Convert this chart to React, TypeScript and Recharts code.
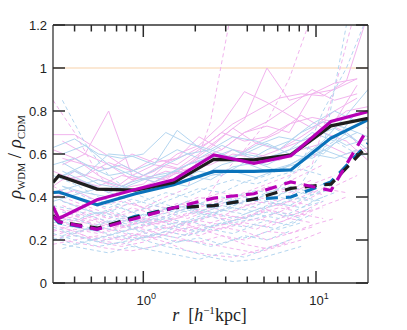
import React from 'react';
import { LineChart, Line, XAxis, YAxis, ReferenceLine } from 'recharts';

// radial bins (h^-1 kpc)
const radiiMean = [0.3, 0.324, 0.54, 0.9, 1.5, 2.56, 4.37, 7.15, 12.2, 20];
const radiiA = [0.3, 0.4, 0.55, 0.75, 1.0, 1.35, 1.8, 2.45, 3.3, 4.5, 6.1, 8.2, 11, 15, 20];
const radiiB = [0.34, 0.46, 0.63, 0.86, 1.16, 1.57, 2.1, 2.85, 3.85, 5.2, 7.0, 9.5, 12.8, 17.3];

const xTicks = [0.4, 0.5, 0.6, 0.7, 0.8, 0.9, 1, 2, 3, 4, 5, 6, 7, 8, 9, 10];
const yTicks = [0, 0.2, 0.4, 0.6, 0.8, 1, 1.2];

// thick median curves
const blackSolid = [0.468, 0.499, 0.437, 0.432, 0.467, 0.575, 0.573, 0.596, 0.731, 0.766];
const blueSolid = [0.421, 0.423, 0.364, 0.415, 0.457, 0.519, 0.519, 0.526, 0.674, 0.759];
const magentaSolid = [0.356, 0.3, 0.387, 0.435, 0.48, 0.596, 0.557, 0.592, 0.751, 0.797];
const blackDashed = [0.315, 0.285, 0.255, 0.305, 0.35, 0.36, 0.39, 0.44, 0.46, 0.64];
const blueDashed = [0.31, 0.28, 0.25, 0.31, 0.35, 0.36, 0.39, 0.4, 0.47, 0.65];
const magentaDashed = [0.31, 0.285, 0.25, 0.3, 0.35, 0.395, 0.415, 0.47, 0.43, 0.72];

// individual haloes, solid (pink / blue)
const pinkSolid1 = [0.69, 0.69, 0.62, 0.55, 0.5, 0.56, 0.6, 0.66, 0.74, 0.8, 0.86, 0.88, 0.87, 0.94, 1.25];
const pinkSolid2 = [0.55, 0.6, 0.8, 0.5, 0.47, 0.52, 0.58, 0.62, 0.7, 0.75, 0.82, 0.9, 0.85, 0.88];
const pinkSolid3 = [0.62, 0.58, 0.5, 0.45, 0.5, 0.48, 0.55, 0.63, 0.72, 0.65, 0.7, 0.78, 0.72, 0.8, 0.82];
const pinkSolid4 = [0.5, 0.47, 0.42, 0.5, 0.55, 0.53, 0.6, 0.68, 0.76, 1.0, 0.85, 0.88, 0.93, 0.95];
const pinkSolid5 = [0.45, 0.52, 0.48, 0.44, 0.46, 0.55, 0.52, 0.6, 0.58, 0.65, 0.62, 0.68, 0.75, 0.7, 0.6];
const pinkSolid6 = [0.58, 0.55, 0.53, 0.6, 0.56, 0.58, 0.68, 0.62, 0.7, 0.73, 0.7, 0.88, 0.9, 0.95];
const pinkSolid7 = [0.4, 0.43, 0.38, 0.42, 0.45, 0.49, 0.53, 0.55, 0.6, 0.58, 0.62, 0.66, 0.7, 0.66, 0.57];
const pinkSolid8 = [0.66, 0.6, 0.55, 0.48, 0.52, 0.6, 0.64, 0.74, 0.89, 0.84, 0.78, 0.72, 0.8, 0.86];
const pinkSolid9 = [0.52, 0.48, 0.45, 0.5, 0.48, 0.52, 0.5, 0.56, 0.62, 0.6, 0.57, 0.62, 0.65, 0.6, 0.63];
const pinkSolid10 = [0.48, 0.5, 0.56, 0.52, 0.58, 0.55, 0.62, 0.7, 0.66, 0.68, 0.74, 0.77, 0.75, 0.92];

const blueSolid1 = [0.63, 0.67, 0.6, 0.58, 0.6, 0.7, 0.65, 0.62, 0.68, 0.66, 0.62, 0.7, 0.75, 0.72, 0.68];
const blueSolid2 = [0.56, 0.5, 0.6, 0.59, 0.55, 0.71, 0.63, 0.58, 0.6, 0.65, 0.6, 0.68, 0.72, 0.66];
const blueSolid3 = [0.48, 0.52, 0.46, 0.44, 0.48, 0.5, 0.55, 0.58, 0.62, 0.57, 0.6, 0.64, 0.6, 0.7, 0.62];
const blueSolid4 = [0.6, 0.64, 0.55, 0.5, 0.47, 0.53, 0.57, 0.6, 0.56, 0.62, 0.66, 0.74, 0.8, 0.75];
const blueSolid5 = [0.42, 0.45, 0.48, 0.45, 0.42, 0.46, 0.5, 0.48, 0.54, 0.56, 0.52, 0.58, 0.66, 0.78, 0.9];
const blueSolid6 = [0.52, 0.47, 0.42, 0.47, 0.5, 0.52, 0.49, 0.55, 0.58, 0.55, 0.6, 0.58, 0.65, 0.7];
const blueSolid7 = [0.55, 0.58, 0.52, 0.55, 0.5, 0.55, 0.6, 0.62, 0.58, 0.64, 0.68, 0.66, 0.7, 0.64, 0.67];
const blueSolid8 = [0.45, 0.42, 0.4, 0.43, 0.46, 0.48, 0.52, 0.5, 0.56, 0.52, 0.55, 0.6, 0.58, 0.62];
const blueSolid9 = [0.38, 0.41, 0.44, 0.4, 0.43, 0.47, 0.45, 0.5, 0.52, 0.49, 0.53, 0.56, 0.62, 0.58, 0.6];
const blueSolid10 = [0.5, 0.55, 0.5, 0.52, 0.56, 0.62, 0.58, 0.64, 0.6, 0.58, 0.62, 0.7, 0.66, 0.8];

// individual haloes, dashed (pink / blue)
const pinkDash1 = [0.85, 0.7, 0.5, 0.4, 0.35, 0.33, 0.38, 0.36, 0.4, 0.42, 0.45, 0.5, 0.55];
const pinkDash2 = [0.3, 0.28, 0.25, 0.22, 0.24, 0.27, 0.3, 0.32, 0.3, 0.35, 0.38, 0.36];
const pinkDash3 = [0.25, 0.22, 0.2, 0.18, 0.21, 0.24, 0.22, 0.26, 0.28, 0.25, 0.3, 0.33, 0.35];
const pinkDash4 = [0.38, 0.35, 0.3, 0.33, 0.36, 0.34, 0.39, 0.42, 0.4, 0.45, 0.43, 0.48];
const pinkDash5 = [0.32, 0.3, 0.27, 0.26, 0.3, 0.28, 0.32, 0.35, 0.33, 0.38, 0.36, 0.4, 0.44, 0.42];
const pinkDash6 = [0.2, 0.18, 0.16, 0.15, 0.17, 0.2, 0.19, 0.22, 0.2, 0.24, 0.23, 0.26];
const pinkDash7 = [0.45, 0.4, 0.36, 0.38, 0.35, 0.4, 0.44, 0.75, 1.3];
const pinkDash8 = [0.28, 0.3, 0.33, 0.3, 0.28, 0.3, 0.33, 0.31, 0.36, 0.38, 0.35, 0.4, 0.45, 0.5];
const pinkDash9 = [0.22, 0.25, 0.23, 0.27, 0.25, 0.22, 0.2, 0.18, 0.16, 0.14, 0.17, 0.2, 0.24];
const pinkDash10 = [0.4, 0.36, 0.32, 0.29, 0.32, 0.37, 0.35, 0.39, 0.42, 0.46, 0.5, 0.55, 0.9, 1.3];
const pinkDash11 = [0.35, 0.33, 0.29, 0.24, 0.26, 0.29, 0.27, 0.31, 0.29, 0.32, 0.35, 0.33, 0.38];
const pinkDash12 = [0.26, 0.22, 0.2, 0.23, 0.21, 0.24, 0.27, 0.25, 0.28, 0.26, 0.3, 0.28];
const pinkDash13 = [0.3, 0.26, 0.24, 0.2, 0.22, 0.19, 0.15, 0.13, 0.12, 0.15, 0.18, 0.22];
const pinkDash14 = [0.42, 0.38, 0.34, 0.37, 0.33, 0.36, 0.4, 0.37, 0.41, 0.44, 0.42, 0.46, 0.5];
const pinkDash15 = [0.18, 0.2, 0.22, 0.2, 0.24, 0.26, 0.24, 0.28, 0.31, 0.29, 0.33, 0.31, 0.36, 0.4];
const pinkDash16 = [0.33, 0.3, 0.27, 0.3, 0.27, 0.31, 0.34, 0.5, 0.62, 0.75, 0.95, 1.25];
const pinkDash17 = [0.27, 0.24, 0.19, 0.17, 0.19, 0.23, 0.26, 0.24, 0.27, 0.3, 0.28, 0.32, 0.3];
const pinkDash18 = [0.36, 0.32, 0.28, 0.25, 0.28, 0.25, 0.22, 0.26, 0.24, 0.2, 0.23, 0.27, 0.3];
const pinkDash19 = [0.24, 0.27, 0.3, 0.26, 0.29, 0.33, 0.3, 0.34, 0.38, 0.35, 0.33, 0.37];
const pinkDash20 = [0.34, 0.29, 0.24, 0.27, 0.3, 0.26, 0.29, 0.27, 0.31, 0.34, 0.3, 0.34];
const pinkDash21 = [0.2, 0.23, 0.26, 0.29, 0.27, 0.31, 0.35, 0.32, 0.36, 0.4, 0.38, 0.44, 0.41];
const pinkDash22 = [0.29, 0.33, 0.3, 0.35, 0.32, 0.29, 0.25, 0.22, 0.18, 0.16, 0.19];

const blueDash1 = [0.28, 0.3, 0.26, 0.24, 0.27, 0.3, 0.28, 0.32, 0.35, 0.33, 0.37, 0.4, 0.38];
const blueDash2 = [0.85, 0.65, 0.5, 0.42, 0.38, 0.35, 0.37, 0.34, 0.38, 0.41, 0.39, 0.44, 0.48];
const blueDash3 = [0.2, 0.22, 0.19, 0.22, 0.2, 0.17, 0.15, 0.12, 0.1, 0.11, 0.14, 0.17];
const blueDash4 = [0.33, 0.31, 0.34, 0.3, 0.33, 0.36, 0.33, 0.37, 0.4, 0.38, 0.43, 0.41, 0.46];
const blueDash5 = [0.4, 0.36, 0.32, 0.35, 0.31, 0.34, 0.38, 0.36, 0.4, 0.43, 0.41, 0.46, 0.62, 1.2, 1.3];
const blueDash6 = [0.24, 0.21, 0.18, 0.2, 0.23, 0.21, 0.25, 0.28, 0.26, 0.29, 0.27, 0.32];
const blueDash7 = [0.3, 0.27, 0.25, 0.28, 0.32, 0.3, 0.34, 0.31, 0.36, 0.39, 0.44, 0.55, 0.8, 1.0, 1.25];
const blueDash8 = [0.16, 0.19, 0.22, 0.25, 0.22, 0.26, 0.24, 0.28, 0.3, 0.33, 0.31, 0.35];
const blueDash9 = [0.36, 0.34, 0.3, 0.27, 0.24, 0.27, 0.29, 0.26, 0.29, 0.32, 0.3, 0.35, 0.38];
const blueDash10 = [0.27, 0.25, 0.29, 0.27, 0.3, 0.27, 0.31, 0.34, 0.32, 0.36, 0.4, 0.38, 0.42];
const blueDash11 = [0.23, 0.2, 0.17, 0.19, 0.16, 0.18, 0.2, 0.17, 0.2, 0.22, 0.26, 0.3];
const blueDash12 = [0.42, 0.38, 0.35, 0.39, 0.36, 0.4, 0.44, 0.42, 0.47, 0.5, 0.55, 0.6, 0.66, 0.6];
const blueDash13 = [0.31, 0.29, 0.33, 0.31, 0.28, 0.31, 0.35, 0.33, 0.3, 0.34, 0.37, 0.35, 0.4];
const blueDash14 = [0.22, 0.25, 0.23, 0.2, 0.22, 0.19, 0.21, 0.18, 0.22, 0.2, 0.24];
const blueDash15 = [0.5, 0.46, 0.4, 0.36, 0.38, 0.42, 0.4, 0.45, 0.48, 0.46, 0.5, 0.53, 0.5];
const blueDash16 = [0.18, 0.16, 0.14, 0.17, 0.15, 0.13, 0.11, 0.14, 0.12, 0.16, 0.2];
const blueDash17 = [0.26, 0.23, 0.27, 0.3, 0.28, 0.25, 0.28, 0.31, 0.28, 0.3, 0.33, 0.3];
const blueDash18 = [0.38, 0.34, 0.31, 0.28, 0.31, 0.34, 0.32, 0.36, 0.34, 0.38, 0.36, 0.41, 0.44];
const blueDash19 = [0.21, 0.18, 0.21, 0.24, 0.21, 0.24, 0.22, 0.25, 0.23, 0.27, 0.25, 0.28];
const blueDash20 = [0.45, 0.4, 0.37, 0.33, 0.36, 0.33, 0.37, 0.4, 0.38, 0.42, 0.45, 0.42];

const PINK = '#F2B4EE';
const LIGHTBLUE = '#B4D6F0';
const BLACK = '#1E1E1E';
const BLUE = '#0A72BA';
const MAGENTA = '#B700B5';

const toPoints = (radii: number[], vals: number[]) =>
  vals.map((v, i) => ({ r: radii[i], v }));

const pick = (i: number) => (i % 2 === 0 ? radiiA : radiiB);

const faint = [
  ...[pinkSolid1, pinkSolid2, pinkSolid3, pinkSolid4, pinkSolid5, pinkSolid6, pinkSolid7, pinkSolid8, pinkSolid9, pinkSolid10]
    .map((v, i) => ({ data: toPoints(pick(i), v), color: PINK, dash: undefined })),
  ...[blueSolid1, blueSolid2, blueSolid3, blueSolid4, blueSolid5, blueSolid6, blueSolid7, blueSolid8, blueSolid9, blueSolid10]
    .map((v, i) => ({ data: toPoints(pick(i), v), color: LIGHTBLUE, dash: undefined })),
  ...[pinkDash1, pinkDash2, pinkDash3, pinkDash4, pinkDash5, pinkDash6, pinkDash7, pinkDash8, pinkDash9,
    pinkDash10, pinkDash11, pinkDash12, pinkDash13, pinkDash14, pinkDash15, pinkDash16, pinkDash17, pinkDash18,
    pinkDash19, pinkDash20, pinkDash21, pinkDash22]
    .map((v, i) => ({ data: toPoints(pick(i), v), color: PINK, dash: '4 3' })),
  ...[blueDash1, blueDash2, blueDash3, blueDash4, blueDash5, blueDash6, blueDash7, blueDash8,
    blueDash9, blueDash10, blueDash11, blueDash12, blueDash13, blueDash14, blueDash15, blueDash16,
    blueDash17, blueDash18, blueDash19, blueDash20]
    .map((v, i) => ({ data: toPoints(pick(i), v), color: LIGHTBLUE, dash: '4 3' })),
];

const thick = [
  { data: toPoints(radiiMean, blueDashed), color: BLUE, dash: '12 8' },
  { data: toPoints(radiiMean, blackDashed), color: BLACK, dash: '12 8' },
  { data: toPoints(radiiMean, magentaDashed), color: MAGENTA, dash: '12 8' },
  { data: toPoints(radiiMean, blueSolid), color: BLUE, dash: undefined },
  { data: toPoints(radiiMean, blackSolid), color: BLACK, dash: undefined },
  { data: toPoints(radiiMean, magentaSolid), color: MAGENTA, dash: undefined },
];

const W = 407;
const H = 330;
const MARGIN = { top: 25, right: 39, bottom: 46, left: 52 };
const TICK_COLOR = '#2a2a2a';
const SANS = '"Liberation Sans", Arial, Helvetica, sans-serif';
const SERIF = '"Liberation Serif", "DejaVu Serif", serif';

const isMajor = (v: number) => v === 1 || v === 10;

// bottom tick also draws its mirror on the top edge of the box
const BottomTick = (props: any) => {
  const { x, y, payload } = props;
  const v = payload.value;
  const len = isMajor(v) ? 12 : 6.5;
  const top = MARGIN.top;
  return (
    <g>
      <line x1={x} x2={x} y1={y} y2={y - len} stroke={TICK_COLOR} strokeWidth={1.5} />
      <line x1={x} x2={x} y1={top} y2={top + len} stroke={TICK_COLOR} strokeWidth={1.5} />
      {isMajor(v) && (
        <text x={x + 3} y={y + 22} textAnchor="middle" fontFamily={SANS} fontSize={13} fill="#222">
          10<tspan dy={-6} fontSize={9}>{v === 1 ? '0' : '1'}</tspan>
        </text>
      )}
    </g>
  );
};

// left tick also draws its mirror on the right edge of the box
const LeftTick = (props: any) => {
  const { x, y, payload } = props;
  const right = W - MARGIN.right;
  return (
    <g>
      <line x1={x} x2={x + 12} y1={y} y2={y} stroke={TICK_COLOR} strokeWidth={1.5} />
      <line x1={right - 12} x2={right} y1={y} y2={y} stroke={TICK_COLOR} strokeWidth={1.5} />
      <text x={x - 6} y={y} dy="0.36em" textAnchor="end" fontFamily={SANS} fontSize={13} fill="#222">
        {String(payload.value)}
      </text>
    </g>
  );
};

const XLabel = (props: any) => {
  const vb = props.viewBox || {};
  const cx = vb.x + vb.width / 2 - 1;
  const cy = vb.y + 38;
  return (
    <text x={cx} y={cy} textAnchor="middle" fontFamily={SERIF} fontSize={18} fill="#222">
      <tspan fontStyle="italic">r</tspan>
      <tspan>{'\u00a0\u00a0['}</tspan>
      <tspan fontStyle="italic">h</tspan>
      <tspan dy={-7} fontSize={11}>{'\u22121'}</tspan>
      <tspan dy={7}>kpc]</tspan>
    </text>
  );
};

const YLabel = (props: any) => {
  const vb = props.viewBox || {};
  const cx = 21;
  const cy = vb.y + vb.height / 2 + 3;
  return (
    <text
      x={cx}
      y={cy}
      textAnchor="middle"
      fontFamily={SERIF}
      fontSize={19}
      fill="#222"
      transform={`rotate(-90, ${cx}, ${cy})`}
    >
      <tspan fontStyle="italic">ρ</tspan>
      <tspan dy={4} fontSize={10.5}>WDM</tspan>
      <tspan dy={-4}>{' / '}</tspan>
      <tspan fontStyle="italic">ρ</tspan>
      <tspan dy={4} fontSize={10.5}>CDM</tspan>
    </text>
  );
};

const axisLineStyle = { stroke: '#333', strokeWidth: 1.3 };

export default function App() {
  return (
    <div style={{ position: 'absolute', left: 0, top: 0, background: '#fff' }}>
      <LineChart width={W} height={H} margin={MARGIN}>
        <XAxis
          dataKey="r"
          type="number"
          scale="log"
          domain={[0.3, 20]}
          allowDataOverflow
          ticks={xTicks}
          interval={0}
          height={1}
          tickSize={0}
          tickMargin={0}
          tick={<BottomTick />}
          tickLine={false}
          axisLine={axisLineStyle}
          label={<XLabel />}
        />
        <YAxis
          type="number"
          domain={[0, 1.2]}
          allowDataOverflow
          ticks={yTicks}
          interval={0}
          width={1}
          tickSize={0}
          tickMargin={0}
          tick={<LeftTick />}
          tickLine={false}
          axisLine={axisLineStyle}
          label={<YLabel />}
        />
        <ReferenceLine y={1} stroke="#F8D2AA" strokeWidth={1.2} />
        {faint.map((s, i) => (
          <Line
            key={`f${i}`}
            data={s.data}
            dataKey="v"
            type="linear"
            stroke={s.color}
            strokeWidth={1}
            strokeDasharray={s.dash}
            dot={false}
            activeDot={false}
            isAnimationActive={false}
          />
        ))}
        {thick.map((s, i) => (
          <Line
            key={`t${i}`}
            data={s.data}
            dataKey="v"
            type="linear"
            stroke={s.color}
            strokeWidth={3.2}
            strokeDasharray={s.dash}
            dot={false}
            activeDot={false}
            isAnimationActive={false}
          />
        ))}
        {/* top and right edges of the box */}
        <ReferenceLine y={1.2} stroke="#333" strokeWidth={1.3} />
        <ReferenceLine x={20} stroke="#333" strokeWidth={1.3} />
      </LineChart>
    </div>
  );
}
